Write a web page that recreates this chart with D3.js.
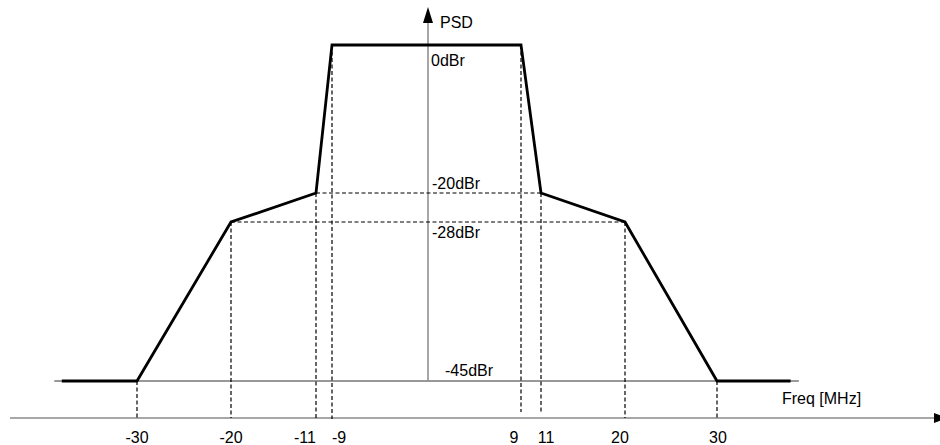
<!DOCTYPE html>
<html>
<head>
<meta charset="utf-8">
<script src="https://cdn.jsdelivr.net/npm/d3@7.9.0/dist/d3.min.js"></script>
<style>
  html, body { margin: 0; padding: 0; background: #fff; }
  svg { display: block; font-family: "Liberation Sans", Arial, sans-serif; }
  .lbl { font-size: 16px; fill: #000; }
</style>
</head>
<body>
<svg id="chart" width="940" height="445"></svg>
<script>
// spectral mask breakpoints (MHz, dBr)
const maskFreq  = [-38, -30, -20, -11, -9, 9, 11, 20, 30, 38];
const maskLevel = [-45, -45, -28, -20, 0, 0, -20, -28, -45, -45];

// tick labels on frequency axis
const tickFreqs = [-30, -20, -11, -9, 9, 11, 20, 30];
const tickNudge = [0, 0, -11, 7, -7, 5, -5, 1];   // label shift, px

// level labels on the PSD axis
const levels = [0, -20, -28, -45];
const levelNames = ['0dBr', '-20dBr', '-28dBr', '-45dBr'];

// dashed guides: [freq, from level] verticals, [level, f0, f1] horizontals
const guideV = [[-30, -45], [-20, -28], [-11, -20], [-9, 0], [9, 0], [11, -20], [20, -28], [30, -45]];
const guideH = [[-20, -11, 11], [-28, -20, 20]];

// schematic (not to scale) -> piecewise scales
const x = d3.scaleLinear()
  .domain([-30, -20, -11, -9, 0, 9, 11, 20, 30])
  .range([137, 231, 316, 332, 428, 521, 541, 625, 717]);
const y = d3.scaleLinear()
  .domain([0, -20, -28, -45])
  .range([45, 193, 222, 381]);

const svg = d3.select('#chart');
const axisY = 418;

// frequency axis (bottom)
svg.append('line')
  .attr('x1', 10).attr('x2', 936)
  .attr('y1', axisY).attr('y2', axisY)
  .attr('stroke', '#8a8a8a').attr('stroke-width', 1.5);
svg.append('path')
  .attr('d', `M934,${axisY - 5} L948,${axisY} L934,${axisY + 5} Z`)
  .attr('fill', '#000');

// -45dBr reference line
svg.append('line')
  .attr('x1', x(-38.8)).attr('x2', x(38.9))
  .attr('y1', y(-45)).attr('y2', y(-45))
  .attr('stroke', '#333').attr('stroke-width', 1);

// PSD axis
const x0 = x(0);
svg.append('line')
  .attr('x1', x0).attr('x2', x0)
  .attr('y1', y(-45)).attr('y2', 20)
  .attr('stroke', '#8a8a8a').attr('stroke-width', 1.5);
svg.append('path')
  .attr('d', `M${x0 - 5},23 L${x0},7 L${x0 + 5},23 Z`)
  .attr('fill', '#000');

// dashed guides
const dash = svg.append('g')
  .attr('stroke', '#000').attr('stroke-width', 1.2)
  .attr('stroke-dasharray', '4,2.5').attr('fill', 'none');
dash.selectAll('line.v').data(guideV).join('line')
  .attr('class', 'v')
  .attr('x1', d => x(d[0])).attr('x2', d => x(d[0]))
  .attr('y1', d => y(d[1])).attr('y2', d => Math.abs(d[0]) === 9 || Math.abs(d[0]) === 11 ? (d[0] > 0 ? 412 : axisY + 1) : axisY);
dash.selectAll('line.h').data(guideH).join('line')
  .attr('class', 'h')
  .attr('x1', d => x(d[1])).attr('x2', d => x(d[2]))
  .attr('y1', d => y(d[0])).attr('y2', d => y(d[0]));

// mask
const pts = maskFreq.map((f, i) => [f, maskLevel[i]]);
svg.append('path')
  .datum(pts)
  .attr('d', d3.line().x(d => x(d[0])).y(d => y(d[1])))
  .attr('fill', 'none')
  .attr('stroke', '#000').attr('stroke-width', 2.8)
  .attr('stroke-linejoin', 'miter');

// tick labels
svg.selectAll('text.tick').data(tickFreqs).join('text')
  .attr('class', 'lbl tick')
  .attr('x', (d, i) => x(d) + tickNudge[i])
  .attr('y', 443)
  .attr('text-anchor', 'middle')
  .text(d => d);

// level labels
const lvlX = [x0 + 3, x0 + 4, x0 + 4, x0 + 17];
const lvlY = [66, 189, 238, 376];
svg.selectAll('text.lvl').data(levels).join('text')
  .attr('class', 'lbl lvl')
  .attr('x', (d, i) => lvlX[i])
  .attr('y', (d, i) => lvlY[i])
  .text((d, i) => levelNames[i]);

svg.append('text').attr('class', 'lbl')
  .attr('x', x0 + 12).attr('y', 28).text('PSD');
svg.append('text').attr('class', 'lbl')
  .attr('x', 782).attr('y', 404).text('Freq [MHz]');
</script>
</body>
</html>
